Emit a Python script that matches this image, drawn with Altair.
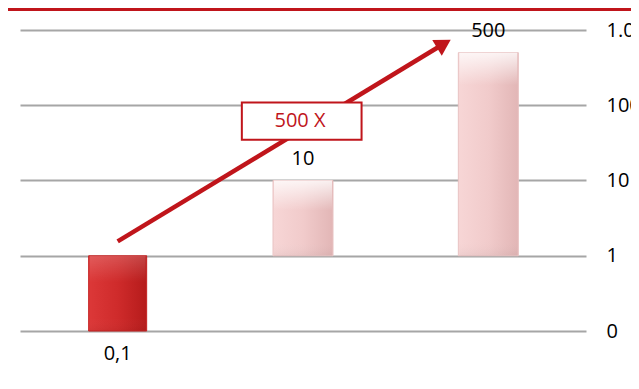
import altair as alt
import pandas as pd

# --- data -------------------------------------------------------------
categories = ["A", "B", "C"]
positions = [0, 1, 2]
bar_low = [0.1, 1, 1]
bar_high = [1, 10, 500]
bar_labels = ["0,1", "10", "500"]
label_side = ["below", "above", "above"]

y_ticks = [0.1, 1, 10, 100, 1000]

# arrow annotation (data coordinates)
arrow_x = [0.0, 1.76]
arrow_y = [1.55, 656]
box_x = [0.67, 1.316]
box_y = [34.8, 108.9]
box_text = "500 X"
box_text_pos = [0.984, 62.2]

RED = "#c0151b"
FONT = "Open Sans"
FS = 20

bars = pd.DataFrame({"cat": categories, "pos": positions, "lo": bar_low,
                     "hi": bar_high, "label": bar_labels, "side": label_side})

xs = alt.Scale(domain=[-0.5, 2.5], nice=False, zero=False)
ys = alt.Scale(type="log", domain=[0.1, 1000], nice=False)

yaxis = alt.Axis(orient="right", values=y_ticks, grid=True, gridColor="#a6a6a6",
                 gridWidth=2, domain=False, ticks=False, labelPadding=20,
                 labelFont=FONT, labelFontSize=FS, labelColor="#000000",
                 labelExpr="datum.value < 1 ? '0' : (datum.value >= 1000 ? '1.000' : format(datum.value, 'd'))",
                 title=None)

base = alt.Chart(bars)


def hgrad(c0, c1, c2):
    return alt.Gradient(gradient="linear", x1=0, x2=1, y1=0, y2=0,
                        stops=[alt.GradientStop(color=c0, offset=0),
                               alt.GradientStop(color=c1, offset=0.5),
                               alt.GradientStop(color=c2, offset=1)])


def vhigh(frac, alpha):
    return alt.Gradient(gradient="linear", x1=0, x2=0, y1=0, y2=1,
                        stops=[alt.GradientStop(color=f"rgba(255,255,255,{alpha})", offset=0),
                               alt.GradientStop(color="rgba(255,255,255,0)", offset=frac),
                               alt.GradientStop(color="rgba(255,255,255,0)", offset=1 - frac / 2),
                               alt.GradientStop(color="rgba(0,0,0,0.04)", offset=1)])


enc = dict(x=alt.X("pos:Q", scale=xs, axis=None), y=alt.Y("lo:Q", scale=ys), y2="hi:Q")

bar_red = base.transform_filter("datum.cat == 'A'").mark_bar(
    size=58, color=hgrad("#dc3838", "#cf2b2b", "#b51b1b"), stroke="#c52222", strokeWidth=1
).encode(x=alt.X("pos:Q", scale=xs, axis=None),
         y=alt.Y("lo:Q", scale=ys, axis=yaxis), y2="hi:Q")
hl_red = base.transform_filter("datum.cat == 'A'").mark_bar(
    size=56, color=vhigh(0.35, 0.18)).encode(**enc)

bar_pink = base.transform_filter("datum.cat != 'A'").mark_bar(
    size=60, color=hgrad("#f7d6d6", "#f1cbcb", "#e2b6b6"), stroke="#e8c2c2", strokeWidth=1
).encode(**enc)
hl_b = base.transform_filter("datum.cat == 'B'").mark_bar(
    size=58, color=vhigh(0.4, 0.8)).encode(**enc)
hl_c = base.transform_filter("datum.cat == 'C'").mark_bar(
    size=58, color=vhigh(0.16, 0.8)).encode(**enc)

lab_above = base.transform_filter("datum.side == 'above'").mark_text(
    font=FONT, fontSize=FS, color="#000000", dy=-22, baseline="middle"
).encode(x=alt.X("pos:Q", scale=xs), y=alt.Y("hi:Q", scale=ys), text="label:N")

lab_below = base.transform_filter("datum.side == 'below'").mark_text(
    font=FONT, fontSize=FS, color="#000000", dy=23, baseline="middle"
).encode(x=alt.X("pos:Q", scale=xs), y=alt.Y("lo:Q", scale=ys), text="label:N")

arrow_df = pd.DataFrame({"x": arrow_x, "y": arrow_y, "o": [0, 1]})
arrow_line = alt.Chart(arrow_df).mark_line(color=RED, strokeWidth=4.5).encode(
    x=alt.X("x:Q", scale=xs), y=alt.Y("y:Q", scale=ys), order="o:Q")
arrow_head = alt.Chart(arrow_df.iloc[[1]]).mark_point(
    shape="triangle-up", size=340, angle=59, filled=True, color=RED, opacity=1
).encode(x=alt.X("x:Q", scale=xs), y=alt.Y("y:Q", scale=ys))

box_df = pd.DataFrame({"x": [box_x[0]], "x2": [box_x[1]], "y": [box_y[0]], "y2": [box_y[1]],
                       "tx": [box_text_pos[0]], "ty": [box_text_pos[1]], "t": [box_text]})
box = alt.Chart(box_df).mark_rect(fill="white", stroke=RED, strokeWidth=2).encode(
    x=alt.X("x:Q", scale=xs), x2="x2:Q", y=alt.Y("y:Q", scale=ys), y2="y2:Q")
box_label = alt.Chart(box_df).mark_text(font=FONT, fontSize=FS, color=RED, baseline="middle").encode(
    x=alt.X("tx:Q", scale=xs), y=alt.Y("ty:Q", scale=ys), text="t:N")

top_line = alt.Chart(box_df).mark_rule(color=RED, strokeWidth=3).encode(
    x=alt.value(-13), x2=alt.value(625), y=alt.value(-20.5))

chart = alt.layer(bar_red, hl_red, bar_pink, hl_b, hl_c, arrow_line, arrow_head, box, box_label,
                  lab_above, lab_below, top_line).properties(
    width=566, height=301,
    autosize=alt.AutoSizeParams(type="none"),
    padding={"left": 12, "top": 22, "right": 45, "bottom": 50},
).configure_view(stroke=None)

chart.save("out.html", embed_options={"renderer": "svg", "actions": False})
